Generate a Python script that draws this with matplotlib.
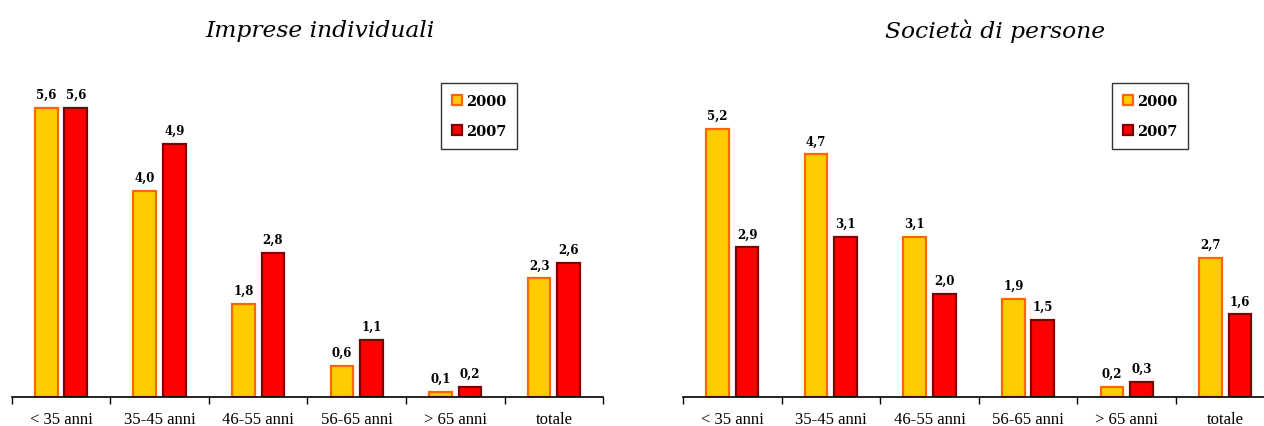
import matplotlib
matplotlib.use("Agg")
import matplotlib.pyplot as plt
from matplotlib.patches import Patch
import numpy as np

categories = ["< 35 anni", "35-45 anni", "46-55 anni", "56-65 anni", "> 65 anni", "totale"]
years = ["2000", "2007"]

imprese_2000 = [5.6, 4.0, 1.8, 0.6, 0.1, 2.3]
imprese_2007 = [5.6, 4.9, 2.8, 1.1, 0.2, 2.6]

societa_2000 = [5.2, 4.7, 3.1, 1.9, 0.2, 2.7]
societa_2007 = [2.9, 3.1, 2.0, 1.5, 0.3, 1.6]

W, H = 1264, 427
fig = plt.figure(figsize=(W / 100, H / 100), dpi=100)

fill_colors = ["#FFCC00", "#FF0000"]
edge_colors = ["#FF6600", "#800000"]

LABEL_FONT = dict(family="DejaVu Serif", fontweight="bold", fontsize=8.5)
TICK_FONT = dict(family="Liberation Serif", fontsize=12)
TITLE_FONT = dict(family="DejaVu Serif", fontstyle="italic", fontsize=16.8)


def fmt(v):
    return f"{v:.1f}".replace(".", ",")


def draw_panel(left_px, series, title, title_x, legend_x):
    base_px = 398
    unit_px = 51.6
    ymax = 6.0
    ax = fig.add_axes([left_px / W, (H - base_px) / H, 591.5 / W, ymax * unit_px / H])
    x = np.arange(len(categories))
    width = 0.23
    offsets = [-0.15, 0.15]
    for vals, off, fc, ec, yr in zip(series, offsets, fill_colors, edge_colors, years):
        bars = ax.bar(x + off, vals, width, color=fc, edgecolor=ec, linewidth=1.6,
                      label=yr, zorder=2)
        for b, v in zip(bars, vals):
            ax.annotate(fmt(v), (b.get_x() + b.get_width() / 2, v),
                        xytext=(0, 5), textcoords="offset points",
                        ha="center", va="bottom", **LABEL_FONT)
    ax.set_xlim(-0.5, len(categories) - 0.5)
    ax.set_ylim(0, ymax)
    for s in ["top", "right", "left"]:
        ax.spines[s].set_visible(False)
    ax.spines["bottom"].set_linewidth(1.2)
    ax.set_yticks([])
    ax.set_xticks(x)
    ax.set_xticklabels(categories, **TICK_FONT)
    ax.tick_params(axis="x", which="major", length=0, pad=10)
    ax.set_xticks(np.arange(len(categories) + 1) - 0.5, minor=True)
    ax.tick_params(axis="x", which="minor", length=5, width=1, direction="out", color="black")

    fig.text(title_x / W, 1 - 31 / H, title, ha="center", va="center", **TITLE_FONT)

    handles = [Patch(facecolor=fc, edgecolor=ec, linewidth=1.6) for fc, ec in zip(fill_colors, edge_colors)]
    leg = fig.legend(handles, years, loc="upper left",
                     bbox_to_anchor=(legend_x / W, 1 - 84 / H),
                     frameon=True, fancybox=False, edgecolor="black",
                     prop=dict(family="DejaVu Serif", weight="bold", size=10.5),
                     handlelength=0.7, handleheight=0.7, handletextpad=0.25,
                     labelspacing=1.1, borderpad=0.75, borderaxespad=0)
    leg.get_frame().set_linewidth(1.0)
    return ax


draw_panel(11.7, [imprese_2000, imprese_2007], "Imprese individuali", 320, 441)
draw_panel(683, [societa_2000, societa_2007], "Società di persone", 995, 1112)

fig.savefig("out.png", dpi=100, facecolor="white")
